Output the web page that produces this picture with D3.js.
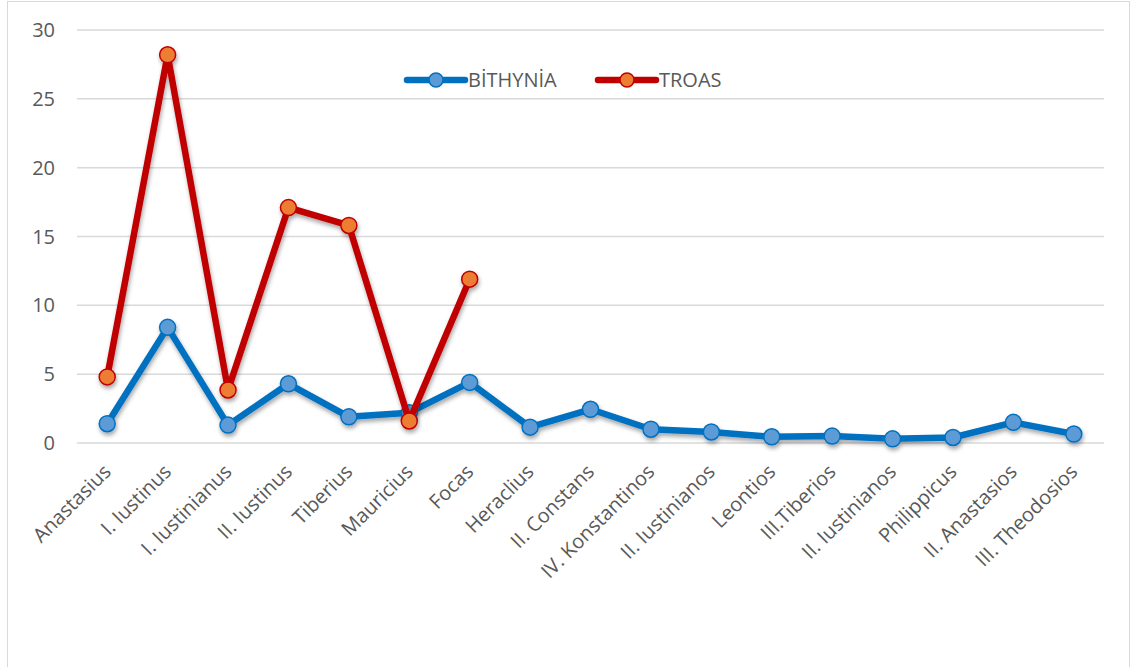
<!DOCTYPE html>
<html><head><meta charset="utf-8">
<script src="https://cdn.jsdelivr.net/npm/d3@7"></script>
<style>body{margin:0;background:#fff;}svg{display:block;font-family:"Open Sans",sans-serif;}</style>
</head><body>
<svg id="c" width="1132" height="667"></svg>
<script>
const categories = ["Anastasius","I. Iustinus","I. Iustinianus","II. Iustinus","Tiberius","Mauricius","Focas","Heraclius","II. Constans","IV. Konstantinos","II. Iustinianos","Leontios","III.Tiberios","II. Iustinianos ","Philippicus","II. Anastasios","III. Theodosios"];
const bithynia = [1.4,8.4,1.3,4.3,1.9,2.2,4.4,1.15,2.45,1.0,0.8,0.45,0.5,0.3,0.4,1.5,0.65];
const troas = [4.8,28.2,3.85,17.1,15.8,1.6,11.9];
const yTicks = [0,5,10,15,20,25,30];
const seriesNames = ["BİTHYNİA","TROAS"];

const svg = d3.select("#c");
const defs = svg.append("defs");
const f = defs.append("filter").attr("id","sh").attr("x","-20%").attr("y","-20%").attr("width","140%").attr("height","160%");
f.append("feDropShadow").attr("dx",1).attr("dy",3).attr("stdDeviation",2).attr("flood-color","#000").attr("flood-opacity",0.35);

svg.append("rect").attr("x",7.5).attr("y",1.5).attr("width",1122).attr("height",680).attr("fill","none").attr("stroke","#d9d9d9");

const x = d3.scaleBand().domain(d3.range(categories.length)).range([77,1104]);
const y = d3.scaleLinear().domain([0,30]).range([443,30]);
const cx = i => x(i) + x.bandwidth()/2;

// grid
svg.append("g").selectAll("line").data(yTicks).join("line")
  .attr("x1",77).attr("x2",1104).attr("y1",d=>y(d)).attr("y2",d=>y(d))
  .attr("stroke","#d9d9d9").attr("stroke-width",1.5);

// y labels
svg.append("g").selectAll("text").data(yTicks).join("text")
  .attr("x",55).attr("y",d=>y(d)).attr("dy","0.35em").attr("text-anchor","end")
  .attr("font-size",20).attr("fill","#595959").text(d=>d);

// x labels
svg.append("g").selectAll("text").data(categories).join("text")
  .attr("transform",(d,i)=>`translate(${cx(i)},${468}) rotate(-45)`)
  .attr("text-anchor","end").attr("dy","0.35em")
  .attr("font-size",20).attr("fill","#595959").text(d=>d.trim());

const line = d3.line().x((d,i)=>cx(i)).y(d=>y(d));
function series(vals, lc, mf){
  const g = svg.append("g").attr("filter","url(#sh)");
  g.append("path").datum(vals).attr("d",line).attr("fill","none").attr("stroke",lc).attr("stroke-width",6.5).attr("stroke-linejoin","round");
  g.selectAll("circle").data(vals).join("circle").attr("cx",(d,i)=>cx(i)).attr("cy",d=>y(d)).attr("r",8)
    .attr("fill",mf).attr("stroke",lc).attr("stroke-width",1.5);
}
series(bithynia,"#0070C0","#5B9BD5");
series(troas,"#C00000","#ED7D31");

// legend
const leg = [{n:seriesNames[0],x:407,lc:"#0070C0",mf:"#5B9BD5"},{n:seriesNames[1],x:598,lc:"#C00000",mf:"#ED7D31"}];
const lg = svg.append("g").selectAll("g").data(leg).join("g").attr("transform",d=>`translate(${d.x},80)`);
lg.append("line").attr("x1",0).attr("x2",58).attr("stroke",d=>d.lc).attr("stroke-width",6.5).attr("stroke-linecap","round");
lg.append("circle").attr("cx",29).attr("r",7).attr("fill",d=>d.mf).attr("stroke",d=>d.lc).attr("stroke-width",1.5);
lg.append("text").attr("x",61).attr("dy","0.35em").attr("font-size",20).attr("fill","#595959").text(d=>d.n);
</script>
</body></html>
